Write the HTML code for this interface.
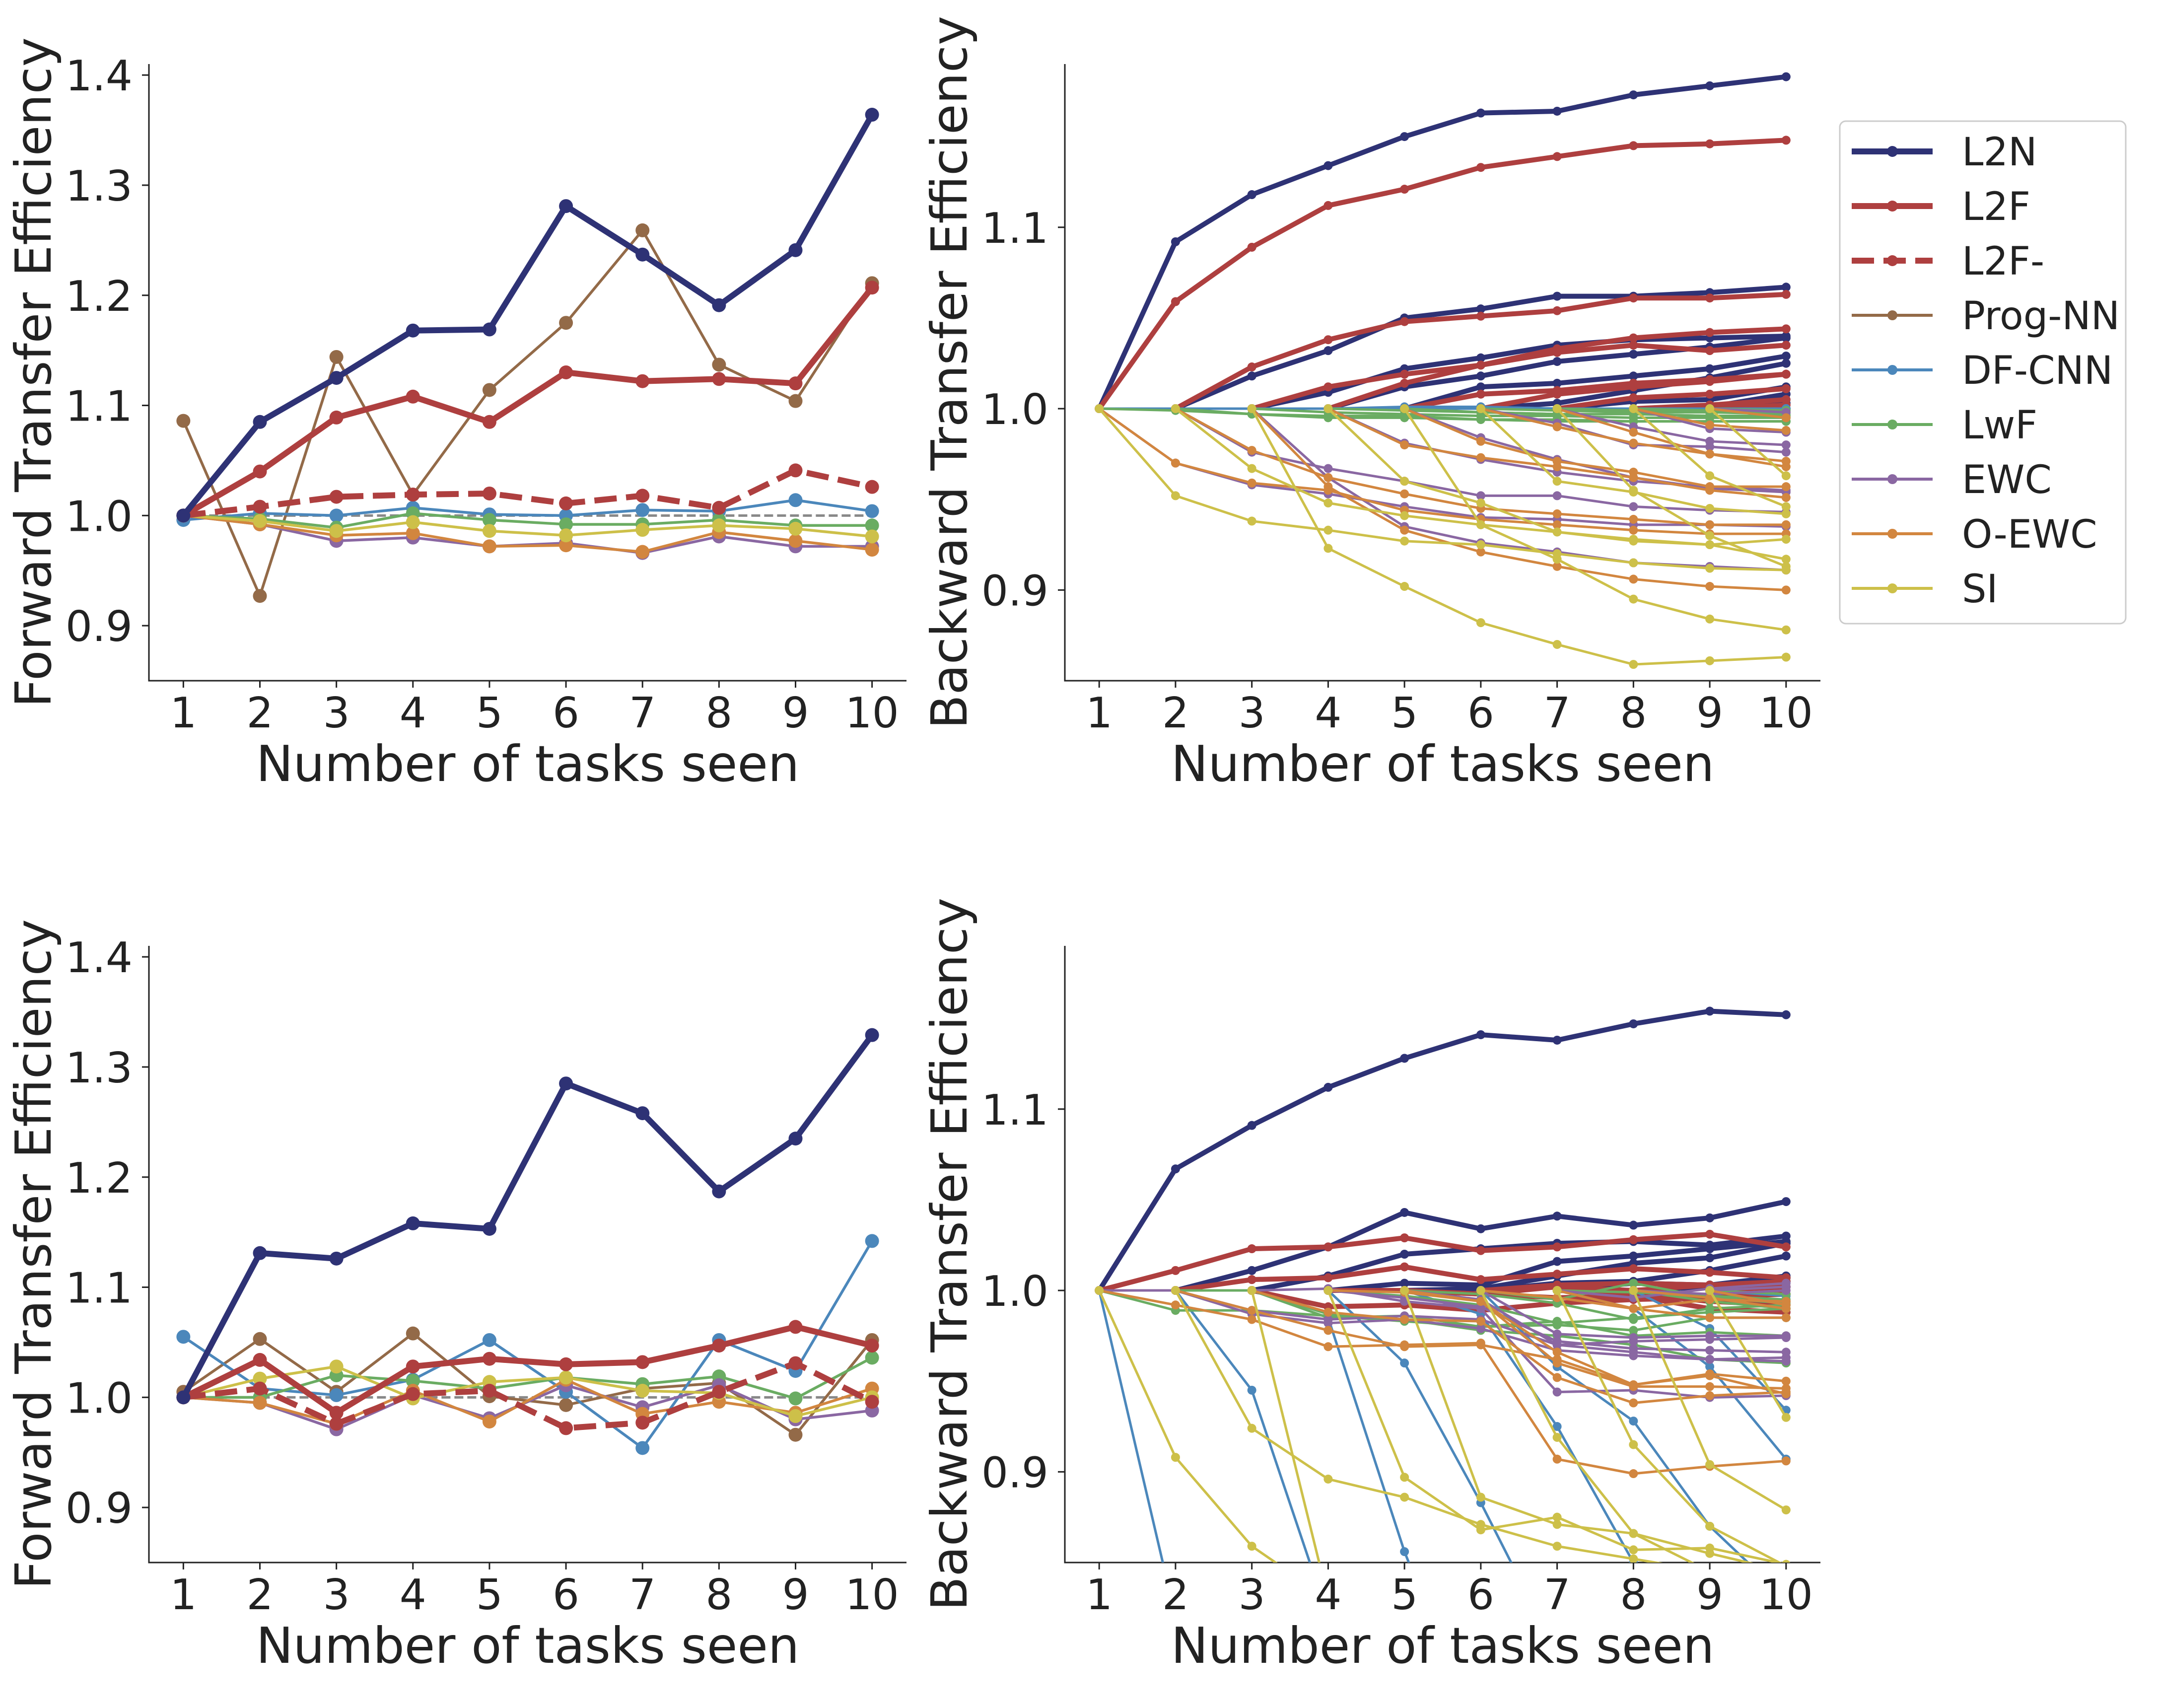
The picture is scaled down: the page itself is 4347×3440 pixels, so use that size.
<!DOCTYPE html>
<html><head><meta charset="utf-8">
<style>
html,body{margin:0;padding:0;background:#fff;}
svg{display:block;}
text{font-family:"DejaVu Sans","Liberation Sans",sans-serif;fill:#222;}
</style></head>
<body>
<svg id="fig" width="4347" height="3440" viewBox="0 0 4347 3440" xmlns="http://www.w3.org/2000/svg">
<defs>
<clipPath id="clipTR"><rect x="2145" y="129" width="1522" height="1242"/></clipPath>
<clipPath id="clipBR"><rect x="2145" y="1905" width="1522" height="1242"/></clipPath>
</defs>
<g id="panels"></g>
<g id="legend"></g>
</svg>
<script>
// ---------- data ----------
const tasks = [1,2,3,4,5,6,7,8,9,10];
const methods = ["L2N","L2F","L2F-","Prog-NN","DF-CNN","LwF","EWC","O-EWC","SI"];
const fteTicks = [0.9,1.0,1.1,1.2,1.3,1.4];
const bteTicks = [0.9,1.0,1.1];
const fteTickLabels = ["0.9","1.0","1.1","1.2","1.3","1.4"];
const bteTickLabels = ["0.9","1.0","1.1"];

// top-left forward transfer
const fteTopL2N  = [1.0,1.085,1.125,1.168,1.169,1.281,1.237,1.191,1.241,1.364];
const fteTopL2F  = [1.0,1.040,1.089,1.108,1.085,1.130,1.122,1.124,1.120,1.207];
const fteTopL2Fm = [1.0,1.008,1.017,1.019,1.020,1.011,1.018,1.007,1.041,1.026];
const fteTopProg = [1.086,0.927,1.144,1.019,1.114,1.175,1.259,1.137,1.104,1.211];
const fteTopDF   = [0.996,1.002,1.0,1.007,1.001,1.0,1.005,1.004,1.014,1.004];
const fteTopLwF  = [1.0,0.997,0.989,1.002,0.996,0.992,0.992,0.996,0.991,0.991];
const fteTopEWC  = [1.0,0.992,0.977,0.980,0.972,0.975,0.966,0.981,0.972,0.972];
const fteTopOEWC = [1.0,0.992,0.982,0.984,0.972,0.973,0.967,0.985,0.977,0.969];
const fteTopSI   = [1.0,0.995,0.986,0.994,0.986,0.982,0.987,0.991,0.988,0.981];

// bottom-left forward transfer
const fteBotL2N  = [1.0,1.131,1.126,1.158,1.153,1.285,1.258,1.187,1.235,1.329];
const fteBotL2F  = [1.0,1.034,0.986,1.028,1.035,1.030,1.032,1.047,1.064,1.047];
const fteBotL2Fm = [1.0,1.008,0.976,1.003,1.006,0.972,0.977,1.005,1.031,0.996];
const fteBotProg = [1.005,1.053,1.005,1.058,1.001,0.993,1.008,1.013,0.966,1.052];
const fteBotDF   = [1.055,1.008,1.002,1.016,1.052,1.005,0.954,1.052,1.024,1.142];
const fteBotLwF  = [1.0,1.0,1.020,1.015,1.008,1.018,1.012,1.019,0.999,1.036];
const fteBotEWC  = [1.0,0.995,0.971,1.002,0.981,1.011,0.991,1.011,0.980,0.988];
const fteBotOEWC = [1.0,0.995,0.976,1.006,0.978,1.016,0.985,0.996,0.986,1.008];
const fteBotSI   = [1.0,1.017,1.028,0.999,1.014,1.018,1.006,1.004,0.983,1.0];

// top-right backward transfer: series k starts at task k+1
const bteTopL2N = [
 [1,1.092,1.118,1.134,1.150,1.163,1.164,1.173,1.178,1.183],
 [1,1.018,1.032,1.050,1.055,1.062,1.062,1.064,1.067],
 [1,1.009,1.022,1.028,1.035,1.038,1.039,1.040],
 [1,1.012,1.018,1.026,1.030,1.034,1.039],
 [1,1.012,1.014,1.018,1.022,1.029],
 [1,1.003,1.010,1.017,1.025],
 [1,1.004,1.005,1.012],
 [1,1.001,1.008],
 [1,1.003]];
const bteTopL2F = [
 [1,1.059,1.089,1.112,1.121,1.133,1.139,1.145,1.146,1.148],
 [1,1.023,1.038,1.048,1.051,1.054,1.061,1.061,1.063],
 [1,1.012,1.019,1.024,1.033,1.039,1.042,1.044],
 [1,1.014,1.024,1.031,1.035,1.032,1.035],
 [1,1.008,1.010,1.014,1.016,1.019],
 [1,1.008,1.012,1.015,1.019],
 [1,1.006,1.008,1.011],
 [1,1.002,1.005],
 [1,1.002]];
const bteTopDF = [
 [1,1,1,1,1.001,1.001,1,1,1,1],
 [1,1,1,1,1.001,1,1,1,1],
 [1,1,1,1,1,1,1],[1,1,1,1,1,1,1],[1,1,1,1,1,1],[1,1,1,1,1],[1,1,1,1],[1,1,1],[1,1]];
const bteTopLwF = [
 [1,0.999,0.997,0.995,0.995,0.994,0.994,0.993,0.993,0.993],
 [1,0.997,0.996,0.996,0.994,0.993,0.993,0.993,0.993],
 [1,0.998,0.997,0.996,0.996,0.995,0.995,0.995],
 [1,0.999,0.998,0.997,0.997,0.996,0.996],
 [1,0.998,0.997,0.997,0.996,0.996],
 [1,0.999,0.998,0.998,0.997],
 [1,0.999,0.998,0.998],
 [1,0.999,0.999],
 [1,0.999]];
const bteTopEWC = [
 [1,0.970,0.958,0.953,0.946,0.940,0.939,0.936,0.936,0.935],
 [1,0.976,0.967,0.960,0.952,0.952,0.946,0.944,0.943],
 [1,0.962,0.935,0.926,0.921,0.915,0.913,0.911],
 [1,0.981,0.972,0.965,0.960,0.957,0.955],
 [1,0.984,0.972,0.962,0.956,0.954],
 [1,0.992,0.980,0.979,0.976],
 [1,0.990,0.982,0.980],
 [1,0.989,0.987],
 [1,0.998]];
const bteTopOEWC = [
 [1,0.970,0.959,0.955,0.944,0.939,0.936,0.933,0.931,0.931],
 [1,0.977,0.962,0.953,0.945,0.942,0.939,0.936,0.936],
 [1,0.957,0.933,0.921,0.913,0.906,0.902,0.900],
 [1,0.980,0.973,0.968,0.962,0.955,0.951],
 [1,0.982,0.971,0.965,0.957,0.957],
 [1,0.990,0.981,0.975,0.968],
 [1,0.987,0.975,0.971],
 [1,0.991,0.988],
 [1,0.995]];
const bteTopSI = [
 [1,0.952,0.938,0.933,0.927,0.925,0.920,0.915,0.912,0.911],
 [1,0.967,0.948,0.941,0.936,0.932,0.927,0.925,0.928],
 [1,0.923,0.902,0.882,0.870,0.859,0.861,0.863],
 [1,0.960,0.948,0.932,0.928,0.925,0.917],
 [1,0.936,0.917,0.895,0.884,0.878],
 [1,0.960,0.954,0.945,0.942],
 [1,0.955,0.930,0.913],
 [1,0.963,0.946],
 [1,0.963]];

// bottom-right backward transfer
const bteBotL2N = [
 [1,1.067,1.091,1.112,1.128,1.141,1.138,1.147,1.154,1.152],
 [1,1.011,1.024,1.043,1.034,1.041,1.036,1.040,1.049],
 [1,1.008,1.020,1.023,1.026,1.027,1.025,1.030],
 [1,1.004,1.003,1.016,1.019,1.023,1.027],
 [1,1.001,1.008,1.015,1.018,1.026],
 [1,1.004,1.005,1.011,1.019],
 [1,1.004,1.003,1.008],
 [1,1.002,1.005],
 [1,1.007]];
const bteBotL2F = [
 [1,1.011,1.023,1.024,1.029,1.022,1.024,1.028,1.031,1.024],
 [1,1.006,1.007,1.013,1.006,1.009,1.012,1.010,1.007],
 [1,0.991,0.992,0.989,0.993,0.995,0.996,0.998],
 [1,1.000,0.998,0.996,0.997,0.990,0.988],
 [1,0.998,1.002,1.000,0.996,0.994],
 [1,1.003,1.004,1.003,1.005],
 [1,0.998,0.994,0.992],
 [1,1.003,1.002],
 [1,1.002]];
const bteBotDF = [
 [1,0.82],
 [1,0.945,0.82],
 [1,0.985,0.856,0.75],
 [1,0.960,0.883,0.80],
 [1,0.987,0.925,0.85,0.80],
 [1,0.958,0.928,0.870,0.83],
 [1,0.990,0.958,0.907],
 [1,0.979,0.934],
 [1,0.997]];
const bteBotLwF = [
 [1,0.989,0.989,0.986,0.983,0.980,0.981,0.978,0.985,0.985],
 [1,1.000,0.985,0.986,0.980,0.983,0.975,0.977,0.975],
 [1,0.987,0.984,0.978,0.975,0.970,0.962,0.960],
 [1,0.997,0.992,0.982,0.985,0.988,0.990],
 [1,0.998,0.993,0.984,0.990,0.992],
 [1,0.995,1.004,0.996,0.993],
 [1,0.999,0.997,0.995],
 [1,0.994,0.990],
 [1,0.998]];
const bteBotEWC = [
 [1,1.0,0.989,0.984,0.986,0.984,0.970,0.966,0.962,0.961],
 [1,0.987,0.982,0.984,0.979,0.967,0.964,0.962,0.963],
 [1,1.001,0.994,0.990,0.944,0.945,0.941,0.942],
 [1,0.996,0.991,0.972,0.968,0.967,0.966],
 [1,0.995,0.970,0.972,0.973,0.974],
 [1,0.976,0.974,0.975,0.975],
 [1,0.996,1.001,1.004],
 [1,0.998,1.000],
 [1,1.002]];
const bteBotOEWC = [
 [1,0.992,0.984,0.969,0.970,0.971,0.907,0.899,0.903,0.906],
 [1,0.989,0.978,0.969,0.970,0.962,0.948,0.954,0.950],
 [1,0.988,0.984,0.983,0.952,0.938,0.942,0.944],
 [1,0.999,0.994,0.960,0.947,0.947,0.946],
 [1,0.994,0.966,0.948,0.953,0.943],
 [1,0.996,0.990,0.985,0.985],
 [1,0.990,0.995,0.994],
 [1,0.996,0.990],
 [1,0.992]];
const bteBotSI = [
 [1,0.908,0.859,0.83],
 [1,0.924,0.896,0.886,0.871,0.859,0.852,0.845,0.840],
 [1,0.83],
 [1,0.897,0.868,0.875,0.857,0.858,0.849],
 [1,0.886,0.871,0.866,0.855,0.845],
 [1,0.919,0.866,0.845,0.83],
 [1,0.915,0.870,0.848],
 [1,0.904,0.879],
 [1,0.930]];

// ---------- styling ----------
const colors = {"L2N":"#2e3275","L2F":"#ae3f3f","L2F-":"#ae3f3f","Prog-NN":"#936a48","DF-CNN":"#4b87bb","LwF":"#6aac62","EWC":"#8a67a2","O-EWC":"#d2863f","SI":"#cdc049"};
const NS = "http://www.w3.org/2000/svg";
function el(tag, attrs, parent){const e=document.createElementNS(NS,tag);for(const k in attrs)e.setAttribute(k,attrs[k]);if(parent)parent.appendChild(e);return e;}

const root = document.getElementById('panels');
const XL = [0.55,10.45];

function makePanel(cfg){
  const g = el('g',{},root);
  
  
  const sx = v => cfg.left + (v-XL[0])/(XL[1]-XL[0])*cfg.w;
  const sy = v => cfg.top + (cfg.ylim[1]-v)/(cfg.ylim[1]-cfg.ylim[0])*cfg.h;
  const bottom = cfg.top+cfg.h;
  // spines
  const ys = el('line',{x1:cfg.left,y1:cfg.top,x2:cfg.left,y2:bottom,stroke:'#222','stroke-width':3},g);
   
  const xs = el('line',{x1:cfg.left-1.5,y1:bottom,x2:cfg.left+cfg.w,y2:bottom,stroke:'#222','stroke-width':3},g);
   
  // x ticks
  tasks.forEach(t=>{
    el('line',{x1:sx(t),y1:bottom,x2:sx(t),y2:bottom+14,stroke:'#222','stroke-width':3},g);
    const tx = el('text',{x:sx(t),y:bottom+94,'font-size':85,'text-anchor':'middle'},g);
    tx.textContent = String(t);
     
  });
  // y ticks
  cfg.ticks.forEach((v,i)=>{
    el('line',{x1:cfg.left-14,y1:sy(v),x2:cfg.left,y2:sy(v),stroke:'#222','stroke-width':3},g);
    const tx = el('text',{x:cfg.left-33,y:sy(v)+31,'font-size':85,'text-anchor':'end'},g);
    tx.textContent = cfg.tickLabels[i];
     
  });
  // axis labels
  const xl = el('text',{x:cfg.left+cfg.w/2,y:bottom+202,'font-size':100,'text-anchor':'middle'},g);
  xl.textContent = 'Number of tasks seen';
   
  const yx = cfg.left-198, yy = cfg.top+cfg.h/2;
  const yl = el('text',{x:yx,y:yy,'font-size':100,'text-anchor':'middle',transform:`rotate(-90 ${yx} ${yy})`},g);
  yl.textContent = cfg.ylabel;
   
  const plot = el('g', cfg.clip?{'clip-path':`url(#${cfg.clip})`}:{}, g);
   
  return {g:plot,sx,sy};
}

function drawSeries(P, xs, ys, method, lw, r, dash, name){
  const c = colors[method];
  const sg = el('g',{},P.g);
  
  
  const pts = ys.map((v,i)=>P.sx(xs[i])+','+P.sy(v)).join(' ');
  const pl = el('polyline',{points:pts,fill:'none',stroke:c,'stroke-width':lw,'stroke-linejoin':'round'},sg);
  if(dash) pl.setAttribute('stroke-dasharray',dash);
  ys.forEach((v,i)=>{
    el('circle',{cx:P.sx(xs[i]),cy:P.sy(v),r:r,fill:c},sg);
  });
}

// FTE panels
function ftePanel(top, name, data){
  const P = makePanel({name, left:300, top, w:1526, h:1242, ylim:[0.85,1.41], ticks:fteTicks, tickLabels:fteTickLabels, ylabel:'Forward Transfer Efficiency'});
  const ref = el('line',{x1:P.sx(1),y1:P.sy(1),x2:P.sx(10),y2:P.sy(1),stroke:'#888','stroke-width':5,'stroke-dasharray':'18,8'},P.g);
   
  const order = ["Prog-NN","DF-CNN","LwF","EWC","O-EWC","SI","L2F-","L2F","L2N"];
  order.forEach(m=>{
    const thick = (m==="L2N"||m==="L2F"||m==="L2F-");
    drawSeries(P, tasks, data[m], m, thick?12:5.5, 14, m==="L2F-"?'45,19':null, 'series-'+m.toLowerCase());
  });
}
ftePanel(129,'fte-top-panel',{"L2N":fteTopL2N,"L2F":fteTopL2F,"L2F-":fteTopL2Fm,"Prog-NN":fteTopProg,"DF-CNN":fteTopDF,"LwF":fteTopLwF,"EWC":fteTopEWC,"O-EWC":fteTopOEWC,"SI":fteTopSI});
ftePanel(1905,'fte-bottom-panel',{"L2N":fteBotL2N,"L2F":fteBotL2F,"L2F-":fteBotL2Fm,"Prog-NN":fteBotProg,"DF-CNN":fteBotDF,"LwF":fteBotLwF,"EWC":fteBotEWC,"O-EWC":fteBotOEWC,"SI":fteBotSI});

// BTE panels
function btePanel(top, name, clip, data){
  const P = makePanel({name, left:2145, top, w:1522, h:1242, ylim:[0.85,1.19], ticks:bteTicks, tickLabels:bteTickLabels, ylabel:'Backward Transfer Efficiency', clip});
  const order = ["L2N","L2F","DF-CNN","LwF","EWC","O-EWC","SI"];
  order.forEach(m=>{
    const thick = (m==="L2N"||m==="L2F");
    data[m].forEach((s,k)=>{
      const xs = s.map((_,i)=>k+1+i);
      drawSeries(P, xs, s, m, thick?10:5, 9, null, 'series-'+m.toLowerCase()+'-task'+(k+1));
    });
  });
}
btePanel(129,'bte-top-panel','clipTR',{"L2N":bteTopL2N,"L2F":bteTopL2F,"DF-CNN":bteTopDF,"LwF":bteTopLwF,"EWC":bteTopEWC,"O-EWC":bteTopOEWC,"SI":bteTopSI});
btePanel(1905,'bte-bottom-panel','clipBR',{"L2N":bteBotL2N,"L2F":bteBotL2F,"DF-CNN":bteBotDF,"LwF":bteBotLwF,"EWC":bteBotEWC,"O-EWC":bteBotOEWC,"SI":bteBotSI});

// legend
const lg = document.getElementById('legend');
el('rect',{x:3706,y:244,width:576,height:1012,rx:12,fill:'#fff',stroke:'#cccccc','stroke-width':3},lg);
methods.forEach((m,i)=>{
  const cy = 305 + i*110;
  const e = el('g',{},lg);
  
  
  const thick = (m==="L2N"||m==="L2F"||m==="L2F-");
  const ln = el('line',{x1:3730,y1:cy,x2:3893,y2:cy,stroke:colors[m],'stroke-width':thick?12:6},e);
  if(m==="L2F-") ln.setAttribute('stroke-dasharray','45,19');
  el('circle',{cx:3812,cy:cy,r:thick?11:10,fill:colors[m]},e);
  const t = el('text',{x:3952,y:cy+28,'font-size':78},e);
  t.textContent = m;
});
</script>
</body></html>
